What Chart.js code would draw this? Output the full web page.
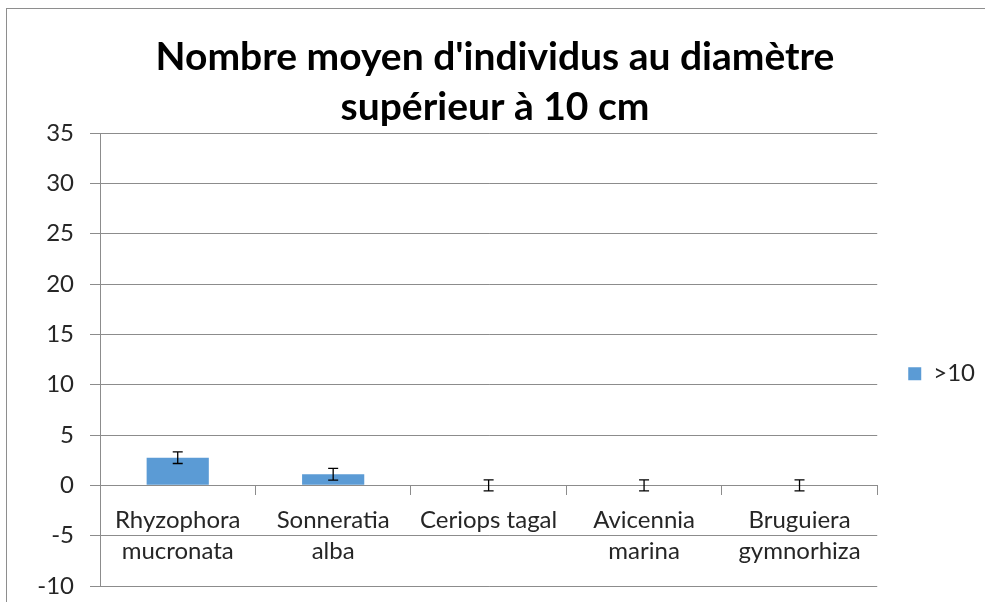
<!DOCTYPE html>
<html><head><meta charset="utf-8">
<script src="https://cdn.jsdelivr.net/npm/chart.js@4.4.1/dist/chart.umd.min.js"></script>
<style>
html,body{margin:0;padding:0;background:#fff;overflow:hidden;width:985px;height:602px}
#frame{position:absolute;left:6px;top:8px;width:1200px;height:800px;border:1px solid #8e8e8e;}
#wrap{position:absolute;left:0;top:0;width:985px;height:602px}
</style></head><body>
<div id="frame"></div>
<div id="wrap"><canvas id="c" width="985" height="602"></canvas></div>
<script>
const categories = [["Rhyzophora","mucronata"],["Sonneratia","alba"],"Ceriops tagal",["Avicennia","marina"],["Bruguiera","gymnorhiza"]];
const seriesName = ">10";
const means = [2.75, 1.1, 0, 0, 0];
const errors = [0.58, 0.58, 0.55, 0.55, 0.55];
const yMin = -10, yMax = 35, yStep = 5;
const titleLines = ["Nombre moyen d'individus au diamètre", "supérieur à 10 cm"];

const FONT = "Lato, 'Open Sans', sans-serif";
const GRID = '#8c8c8c';
const TEXT = '#262626';

const errorBars = {
  id: 'errorBars',
  afterDatasetsDraw(chart) {
    const meta = chart.getDatasetMeta(0);
    const y = chart.scales.y;
    const ctx = chart.ctx;
    ctx.save();
    ctx.strokeStyle = '#000';
    ctx.lineWidth = 1.3;
    meta.data.forEach((bar, i) => {
      const x = bar.x;
      const top = y.getPixelForValue(means[i] + errors[i]);
      const bot = y.getPixelForValue(means[i] - errors[i]);
      ctx.beginPath();
      ctx.moveTo(x, top); ctx.lineTo(x, bot);
      ctx.moveTo(x - 5, top); ctx.lineTo(x + 5, top);
      ctx.moveTo(x - 5, bot); ctx.lineTo(x + 5, bot);
      ctx.stroke();
    });
    ctx.restore();
  }
};

new Chart(document.getElementById('c'), {
  type: 'bar',
  data: {
    labels: categories,
    datasets: [{
      label: seriesName,
      data: means,
      backgroundColor: '#5B9BD5',
      borderWidth: 0,
      barPercentage: 0.4,
      categoryPercentage: 1.0
    }]
  },
  options: {
    responsive: false,
    animation: false,
    layout: { padding: { left: 5, right: 0, top: 0, bottom: 16 } },
    plugins: {
      title: {
        display: true,
        text: titleLines,
        color: '#000',
        font: { family: FONT, size: 39, weight: 'bold', lineHeight: 50/39 },
        padding: { top: 32, bottom: 1 }
      },
      legend: {
        position: 'right',
        fullSize: false,
        align: 'center',
        title: { display: true, text: '', padding: 7, font: { size: 12 } },
        labels: {
          boxWidth: 13, boxHeight: 13,
          color: TEXT,
          font: { family: FONT, size: 24 },
          padding: 31
        }
      },
      tooltip: { enabled: false }
    },
    scales: {
      x: {
        position: { y: 0 },
        offset: true,
        grid: { display: true, drawOnChartArea: false, drawTicks: true, tickLength: 9, color: GRID, offset: true },
        border: { display: true, color: GRID },
        ticks: { color: TEXT, font: { family: FONT, size: 24, lineHeight: 31/24 }, padding: 10, maxRotation: 0, autoSkip: false }
      },
      y: {
        min: yMin, max: yMax,
        afterFit(scale) { scale.width = 95; scale.paddingBottom = 0; scale.paddingTop = 0; },
        ticks: { stepSize: yStep, color: TEXT, font: { family: FONT, size: 24 }, padding: 16 },
        grid: { color: GRID, tickLength: 10, lineWidth: 1 },
        border: { display: true, color: GRID }
      }
    }
  },
  plugins: [errorBars]
});
</script>
</body></html>
